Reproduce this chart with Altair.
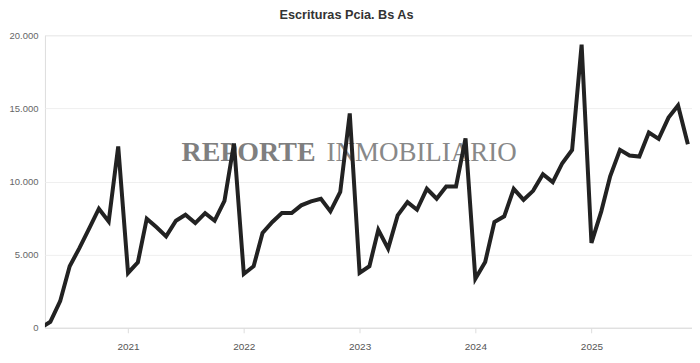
import altair as alt
import pandas as pd

# Monthly deeds (escrituras), Provincia de Buenos Aires, Apr 2020 - Nov 2025
values = [
    0, 410, 1820, 4210, 5460, 6820, 8140, 7270, 12400,            # 2020 (Apr-Dec)
    3750, 4480, 7460, 6870, 6250, 7320, 7730, 7160, 7840, 7320, 8680, 12600,   # 2021
    3680, 4210, 6480, 7230, 7840, 7840, 8370, 8640, 8820, 7960, 9280, 14650,   # 2022
    3750, 4210, 6700, 5410, 7680, 8590, 8070, 9500, 8820, 9660, 9660, 12950,   # 2023
    3350, 4500, 7230, 7620, 9500, 8750, 9360, 10500, 9960, 11250, 12160, 19350,  # 2024
    5800, 7960, 10350, 12160, 11780, 11710, 13350, 12910, 14370, 15200, 12550,  # 2025 (Jan-Nov)
]
start_month = "2020-04-01"
x_domain = ["2020-04-14T00:00:00", "2025-11-14T00:00:00"]
y_ticks = [0, 5000, 10000, 15000, 20000]
title_text = "Escrituras Pcia. Bs As"
watermark_bold = "REPORTE"
watermark_regular = "INMOBILIARIO"

months = pd.date_range(start_month, periods=len(values), freq="MS")
df = pd.DataFrame({
    "fecha": [m.strftime("%Y-%m-%dT00:00:00") for m in months],
    "escrituras": values,
})

W, H = 648, 293

line = alt.Chart(df).mark_line(
    color="#222222", strokeWidth=4, clip=True
).encode(
    x=alt.X(
        "fecha:T",
        title=None,
        scale=alt.Scale(domain=x_domain),
        axis=alt.Axis(
            format="%Y",
            tickCount=alt.TickCount(interval="year", step=1),
            grid=False,
            domain=True,
            domainColor="#dddddd",
            ticks=True,
            tickColor="#dddddd",
            tickSize=5,
            labelPadding=9,
            labelFontSize=10,
            labelColor="#555555",
            labelFont="Liberation Sans",
        ),
    ),
    y=alt.Y(
        "escrituras:Q",
        title=None,
        scale=alt.Scale(domain=[0, 20000], nice=False),
        axis=alt.Axis(
            values=y_ticks,
            labelExpr="replace(format(datum.value, ','), ',', '.')",
            grid=True,
            gridColor="#efefef",
            domain=False,
            ticks=False,
            labelPadding=7,
            labelFontSize=9.5,
            labelColor="#666666",
            labelFont="Liberation Sans",
        ),
    ),
)

wm_bold = alt.Chart(pd.DataFrame({"t": [watermark_bold]})).mark_text(
    font="Liberation Serif", fontSize=28, fontWeight="bold", color="#7f7f7f",
    align="right", baseline="alphabetic",
).encode(text="t:N", x=alt.value(271), y=alt.value(126))

wm_reg = alt.Chart(pd.DataFrame({"t": [watermark_regular]})).mark_text(
    font="Liberation Serif", fontSize=27, fontWeight="normal", color="#888888",
    align="left", baseline="alphabetic",
).encode(text="t:N", x=alt.value(282), y=alt.value(126))

chart = alt.layer(wm_bold, wm_reg, line).properties(
    width=W,
    height=H,
    padding=0,
    title=alt.TitleParams(
        text=title_text,
        font="Liberation Sans",
        fontSize=12.7,
        fontWeight="bold",
        color="#333333",
        anchor="middle",
        dx=-22,
        offset=9,
    ),
).configure_view(stroke=None).configure(background="white")

chart.save("out.html", embed_options={"renderer": "svg", "actions": False})
